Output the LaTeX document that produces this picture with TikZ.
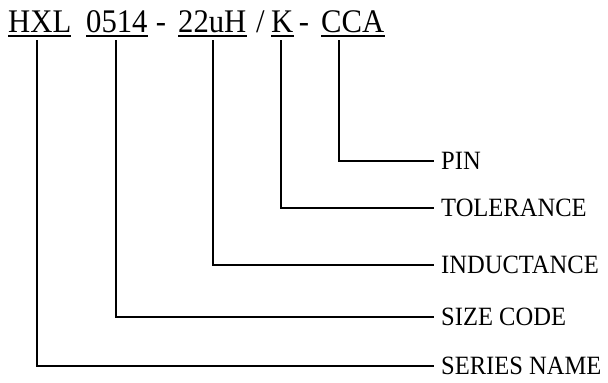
\documentclass[tikz,border=0pt]{standalone}
\usepackage{fontspec}
\setmainfont{Liberation Serif}
\newcommand{\narrow}[1]{\scalebox{0.93}[1]{#1}}
\begin{document}
\begin{tikzpicture}[x=1pt,y=-1pt]
	\tikzstyle{part}=[inner sep=0pt,anchor=base west,font=\fontsize{33}{33}\selectfont]
	\tikzstyle{field}=[inner sep=0pt,inner xsep=7pt,anchor=west,font=\fontsize{26.4}{26.4}\selectfont]
	\tikzstyle{uline}=[draw=black,line width=2pt]
	\tikzstyle{conn}=[draw=black,line width=1.5pt]

	\useasboundingbox (0,0) rectangle (608,383);

	% part number
	\node [part] (hxl)  at (8,32)   {\narrow{HXL}};
	\node [part] (size) at (86,32)  {\narrow{0514}};
	\node [part,anchor=base] (d1) at (161,32) {\narrow{-}};
	\node [part] (ind)  at (178,32) {\narrow{22uH}};
	\node [part] (sl)   at (256,32) {\narrow{/}};
	\node [part] (tol)  at (271,32) {\narrow{K}};
	\node [part,anchor=base] (d2) at (304,32) {\narrow{-}};
	\node [part] (pin)  at (321,32) {\narrow{CCA}};

	\foreach \p in {hxl,size,ind,tol,pin}
		\draw [uline] ([yshift=-4pt]\p.base west) -- ([yshift=-4pt]\p.base east);

	% labels
	\node [field] (lpin)    at (434,161) {\narrow{PIN}};
	\node [field] (ltol)    at (434,208) {\narrow{TOLERANCE}};
	\node [field] (lind)    at (434,265) {\narrow{INDUCTANCE}};
	\node [field] (lsize)   at (434,317) {\narrow{SIZE CODE}};
	\node [field] (lseries) at (434,366) {\narrow{SERIES NAME}};

	\coordinate (chxl)  at (37,40);
	\coordinate (csize) at (116,40);
	\coordinate (cind)  at (213,40);
	\coordinate (ctol)  at (281,40);
	\coordinate (cpin)  at (339,40);

	\draw [conn] (chxl)  |- (lseries.west);
	\draw [conn] (csize) |- (lsize.west);
	\draw [conn] (cind)  |- (lind.west);
	\draw [conn] (ctol)  |- (ltol.west);
	\draw [conn] (cpin)  |- (lpin.west);
\end{tikzpicture}
\end{document}
